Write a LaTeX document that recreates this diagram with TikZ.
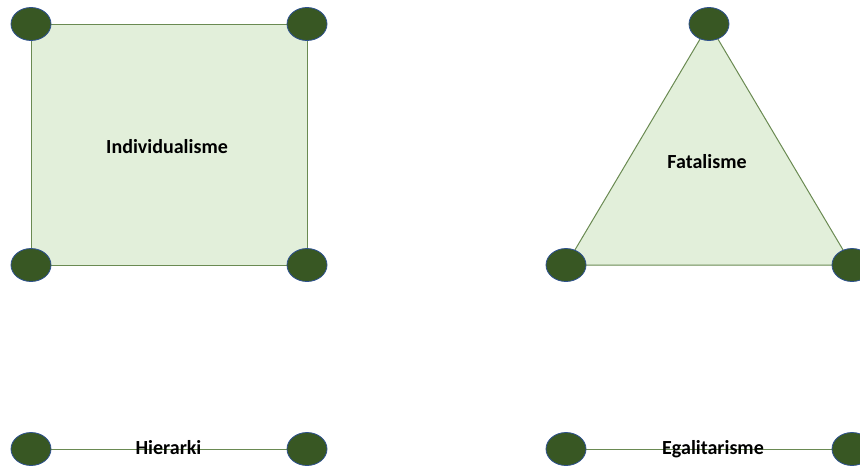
\documentclass[tikz,border=0pt]{standalone}
\usepackage{fontspec}
\setmainfont{Carlito}
\usetikzlibrary{shapes.geometric,backgrounds}
\definecolor{vertexgreen}{HTML}{385723}
\definecolor{vertexrim}{HTML}{2F528F}
\definecolor{edgegreen}{HTML}{6A8A52}
\definecolor{facegreen}{HTML}{E2EFDA}
\tikzset{
  vertex/.style={ellipse,draw=vertexrim,fill=vertexgreen,line width=0.8pt,
    minimum width=40pt,minimum height=33pt,inner sep=0pt},
  face/.style={draw=edgegreen,fill=facegreen,line width=1pt},
  edge/.style={draw=edgegreen,line width=1pt},
  gridname/.style={font=\bfseries\fontsize{20}{24}\selectfont,inner sep=0pt,anchor=base},
}

\begin{document}
\begin{tikzpicture}[x=1pt,y=-1pt]
\useasboundingbox (0,0) rectangle (860,467);
% Individualisme: square
\node[vertex] (i1) at (31,24) {};
\node[vertex] (i2) at (307,24) {};
\node[vertex] (i3) at (307,265) {};
\node[vertex] (i4) at (31,265) {};
\begin{scope}[on background layer]
\path[face] (i1.center)--(i2.center)--(i3.center)--(i4.center)--cycle;
\end{scope}
\node[gridname] (indiv) at (167,153) {Individualisme};
% Fatalisme: triangle
\node[vertex] (f1) at (709,24) {};
\node[vertex] (f2) at (852,265) {};
\node[vertex] (f3) at (566,265) {};
\begin{scope}[on background layer]
\path[face] (f1.center)--(f2.center)--(f3.center)--cycle;
\end{scope}
\node[gridname] (fatal) at (707,168) {Fatalisme};
% Hierarki: line
\node[vertex] (h1) at (31,449) {};
\node[vertex] (h2) at (307,449) {};
\begin{scope}[on background layer]
\draw[edge] (h1.center)--(h2.center);
\end{scope}
\node[gridname] (hier) at (168.5,454.5) {Hierarki};
% Egalitarisme: line
\node[vertex] (e1) at (566,449) {};
\node[vertex] (e2) at (852,449) {};
\begin{scope}[on background layer]
\draw[edge] (e1.center)--(e2.center);
\end{scope}
\node[gridname] (egal) at (713,454) {Egalitarisme};
\end{tikzpicture}
\end{document}
